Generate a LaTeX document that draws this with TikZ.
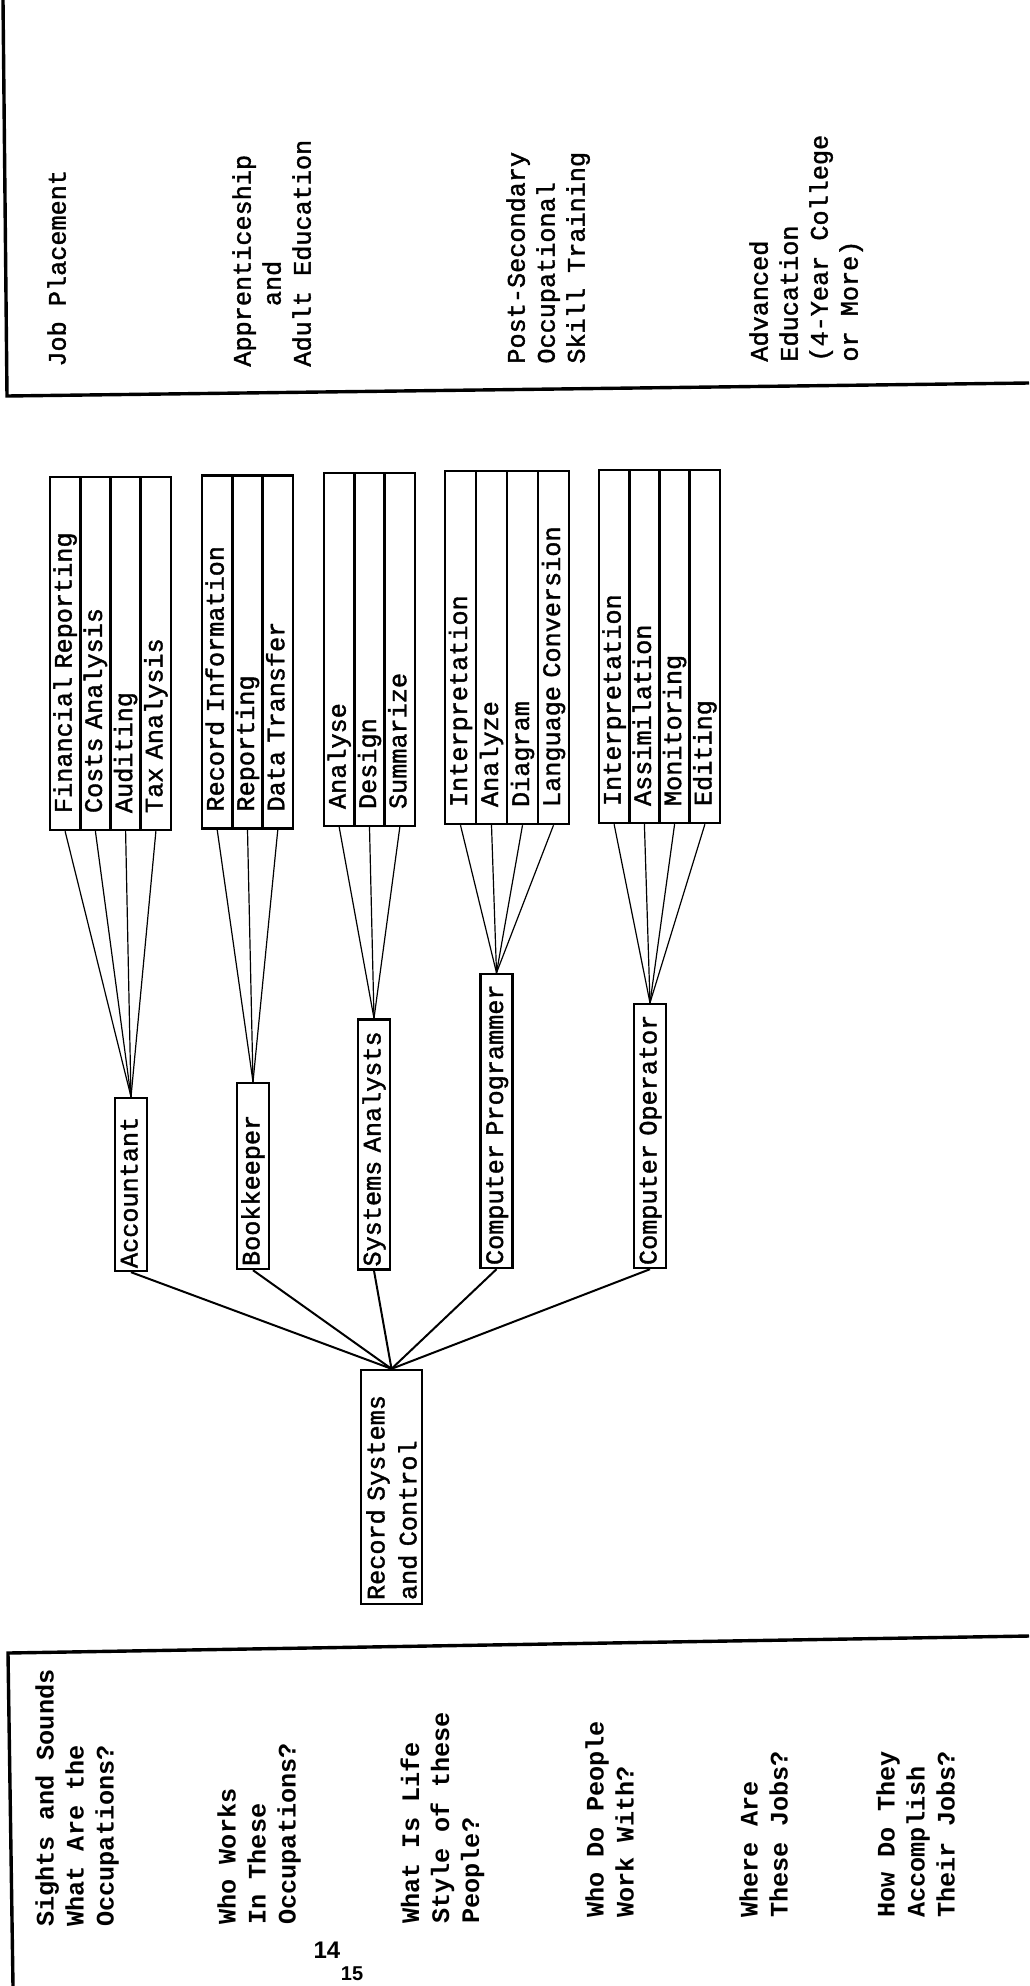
\documentclass[tikz,border=0pt]{standalone}
\usepackage{fontspec}
\newfontfamily\tw{Liberation Mono}[WordSpace={1,0,0}, UprightFeatures={FakeBold=1.5}]
\newfontfamily\pn{Liberation Sans}
\begin{document}
\begin{tikzpicture}[x=0.5pt, y=-0.5pt,
  tt/.style={font={\tw\fontsize{12.6pt}{15pt}\selectfont}},
  lbl/.style={tt, rotate=90, anchor=north west, inner sep=0pt, align=left},
  qlbl/.style={lbl, font={\tw\bfseries\fontsize{12.6pt}{15pt}\selectfont}},
  cell/.style={draw, line width=1.2pt, rotate=90, tt, inner xsep=8.5pt, inner ysep=0pt,
    minimum height=#1, text width=159.5pt, align=left, text height=9pt, text depth=2.5pt},
  cell/.default=15.25pt,
  jobbox/.style={draw, line width=1.2pt, rotate=90, tt, inner xsep=1.5pt, inner ysep=0pt,
    minimum height=16pt, text width=#1, align=left, text height=9pt, text depth=2.5pt},
  rootbox/.style={draw, line width=1.2pt, rotate=90, inner xsep=2pt, inner ysep=0pt,
    minimum height=30.5pt, text width=113pt, align=left,
    font={\tw\fontsize{12.6pt}{16pt}\selectfont}},
  conn/.style={line width=0.6pt},
  trunk/.style={line width=1pt},
  frame/.style={line width=1.7pt},
  pagenum/.style={inner sep=0pt, font={\pn\bfseries\fontsize{12pt}{14pt}\selectfont}}
]
\useasboundingbox (0,0) rectangle (1029,1986);
\fill[white] (0,0) rectangle (1029,1986);

% ---- frames ----
\coordinate (tfa) at (3,0);
\coordinate (tfb) at (7,396);
\coordinate (tfc) at (1029,383);
\draw[frame] (tfa) -- (tfb) -- (tfc);
\coordinate (bfa) at (1029,1636);
\coordinate (bfb) at (8,1653);
\coordinate (bfc) at (13,1986);
\draw[frame] (bfa) -- (bfb) -- (bfc);

% ---- top panel texts ----
\node[lbl] (jp) at (47,367) {Job Placement};
\node[lbl] (app) at (232,367) {Apprenticeship\\\phantom{Appr}and\\Adult Education};
\node[lbl] (post) at (506,364) {Post-Secondary\\Occupational\\Skill Training};
\node[lbl] (adv) at (749,362) {Advanced\\Education\\(4-Year College\\or More)};

% ---- task tables ----
\node[cell] (a1) at (65.1,653.5) {Financial Reporting};
\node[cell] (a2) at (95.4,653.5) {Costs Analysis};
\node[cell] (a3) at (125.6,653.5) {Auditing};
\node[cell] (a4) at (155.9,653.5) {Tax Analysis};

\node[cell] (b1) at (217.2,652) {Record Information};
\node[cell] (b2) at (247.5,652) {Reporting};
\node[cell] (b3) at (277.8,652) {Data Transfer};

\node[cell] (c1) at (339.2,649.5) {Analyse};
\node[cell] (c2) at (369.5,649.5) {Design};
\node[cell] (c3) at (399.8,649.5) {Summarize};

\node[cell=15.5pt] (d1) at (460.5,647.5) {Interpretation};
\node[cell=15.5pt] (d2) at (491.5,647.5) {Analyze};
\node[cell=15.5pt] (d3) at (522.5,647.5) {Diagram};
\node[cell=15.5pt] (d4) at (553.5,647.5) {Language Conversion};

\node[cell] (e1) at (614.1,646.5) {Interpretation};
\node[cell] (e2) at (644.4,646.5) {Assimilation};
\node[cell] (e3) at (674.6,646.5) {Monitoring};
\node[cell] (e4) at (704.9,646.5) {Editing};

% ---- job boxes ----
\node[jobbox=83.5pt] (acc) at (131,1184.5) {Accountant};
\node[jobbox=90pt] (book) at (253,1176) {Bookkeeper};
\node[jobbox=122pt] (sys) at (374,1144.5) {Systems Analysts};
\node[jobbox=144pt] (prog) at (496.5,1121) {Computer Programmer};
\node[jobbox=129pt] (oper) at (650,1136) {Computer Operator};

% ---- root ----
\node[rootbox] (root) at (391.5,1487) {Record Systems\\and Control};

% ---- connectors ----
\foreach \c in {a1,a2,a3,a4} \draw[conn] (\c.west) -- (acc.east);
\foreach \c in {b1,b2,b3} \draw[conn] (\c.west) -- (book.east);
\foreach \c in {c1,c2,c3} \draw[conn] (\c.west) -- (sys.east);
\foreach \c in {d1,d2,d3,d4} \draw[conn] (\c.west) -- (prog.east);
\foreach \c in {e1,e2,e3,e4} \draw[conn] (\c.west) -- (oper.east);
\foreach \j in {acc,book,sys,prog,oper} \draw[trunk] (\j.west) -- (root.east);

% ---- bottom panel texts ----
\node[qlbl] (q1) at (35,1927) {Sights and Sounds\\What Are the\\Occupations?};
\node[qlbl] (q2) at (217,1925) {Who Works\\In These\\Occupations?};
\node[qlbl] (q3) at (400,1924) {What Is Life\\Style of these\\People?};
\node[qlbl] (q4) at (585,1918) {Who Do People\\Work With?};
\node[qlbl] (q5) at (739,1918) {Where Are\\These Jobs?};
\node[qlbl] (q6) at (876,1918) {How Do They\\Accomplish\\Their Jobs?};

\node[pagenum] (pg) at (327,1950) {14};
\node[pagenum, font={\pn\bfseries\fontsize{10pt}{12pt}\selectfont}] (pg2) at (352,1974) {15};
\end{tikzpicture}
\end{document}
